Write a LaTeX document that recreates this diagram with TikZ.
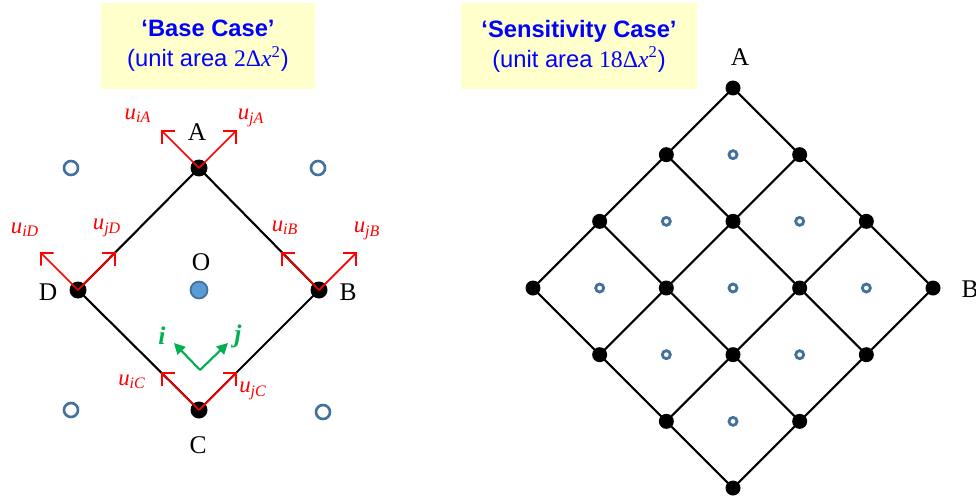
\documentclass[tikz,border=0pt]{standalone}
\usepackage{fontspec}
\setmainfont{Liberation Serif}
\newfontfamily\arialfont{Liberation Sans}
\usepackage{xcolor}
\usepackage{tikz}
\usetikzlibrary{arrows.meta,positioning,calc}

\definecolor{titleblue}{RGB}{0,0,255}
\definecolor{boxyellow}{RGB}{255,255,204}
\definecolor{ringblue}{RGB}{65,113,156}
\definecolor{fillblue}{RGB}{91,155,213}
\definecolor{vecgreen}{RGB}{0,176,80}

\tikzset{
	titlebox/.style={fill=boxyellow, align=center, text=titleblue, minimum height=1.72cm,
		font=\arialfont\fontsize{13.5}{17}\selectfont},
	bigdot/.style={circle, fill=black, inner sep=0pt, minimum size=0.34cm},
	smalldot/.style={circle, fill=black, inner sep=0pt, minimum size=0.3cm},
	ring/.style={circle, draw=ringblue, line width=1.5pt, inner sep=0pt, minimum size=0.28cm},
	cellring/.style={circle, draw=ringblue, line width=1.6pt, inner sep=0pt, minimum size=0.16cm},
	edge/.style={line width=1.2pt, black},
	uvec/.style={red, line width=1pt, -{Straight Barb[length=1.8mm,width=3.6mm]}},
	gvec/.style={vecgreen, line width=1.2pt, -{Triangle[length=2.2mm,width=2.2mm]}},
	ptlabel/.style={font=\fontsize{14.5}{17}\selectfont},
	ulabel/.style={text=red, font=\fontsize{13}{15}\selectfont\itshape, inner sep=0pt}
}

\begin{document}
\begin{tikzpicture}[x=0.02cm, y=-0.02cm]
		\useasboundingbox (0,0) rectangle (976,500);

		% title boxes
		\node[titlebox, minimum width=4.28cm] (basebox) at (208,46)
			{\textbf{‘Base Case’}\\(unit area {\rmfamily 2Δ\textit{x}\textsuperscript{2}})};
		\node[titlebox, minimum width=4.72cm] (sensbox) at (579,46)
			{\textbf{‘Sensitivity Case’}\\(unit area {\rmfamily 18Δ\textit{x}\textsuperscript{2}})};

		% base case cell
		\node[bigdot] (A) at (199,168) {};
		\node[bigdot] (B) at (319,290) {};
		\node[bigdot] (C) at (199,410) {};
		\node[bigdot] (D) at (78,290) {};
		\node[circle, fill=fillblue, draw=ringblue, line width=1pt, inner sep=0pt, minimum size=0.34cm] (O) at (199,290) {};

		\draw[edge] (A.center) -- (B.center) -- (C.center) -- (D.center) -- cycle;

		\node[ring] (nw) at (71,168) {};
		\node[ring] (ne) at (318,168) {};
		\node[ring] (sw) at (71,410) {};
		\node[ring] (se) at (323,412) {};

		\node[ptlabel] (lA) at (197,132) {A};
		\node[ptlabel] (lB) at (348,292) {B};
		\node[ptlabel] (lC) at (198,445) {C};
		\node[ptlabel] (lD) at (48,292) {D};
		\node[ptlabel] (lO) at (201,262) {O};

		% velocity components at the vertices
		\foreach \p in {A,B,C,D} {
			\coordinate (ti\p) at ($(\p)+(-38,-38)$);
			\coordinate (tj\p) at ($(\p)+(38,-38)$);
			\draw[uvec] (\p.center) -- (ti\p);
			\draw[uvec] (\p.center) -- (tj\p);
		}

		\node[ulabel] (uiA) at (138,116) {u\textsubscript{iA}};
		\node[ulabel] (ujA) at (251,118) {u\textsubscript{jA}};
		\node[ulabel] (uiD) at (25,230) {u\textsubscript{iD}};
		\node[ulabel] (ujD) at (107,228) {u\textsubscript{jD}};
		\node[ulabel] (uiB) at (285,228) {u\textsubscript{iB}};
		\node[ulabel] (ujB) at (367,231) {u\textsubscript{jB}};
		\node[ulabel] (uiC) at (132,382) {u\textsubscript{iC}};
		\node[ulabel] (ujC) at (253,391) {u\textsubscript{jC}};

		% local axes
		\coordinate (ax) at (200,370);
		\coordinate (axi) at (174,343);
		\coordinate (axj) at (228,343);
		\draw[gvec] (ax) -- (axi);
		\draw[gvec] (ax) -- (axj);
		\node[text=vecgreen, font=\fontsize{14.5}{17}\selectfont\bfseries\itshape] (li) at (162,336) {i};
		\node[text=vecgreen, font=\fontsize{14.5}{17}\selectfont\bfseries\itshape] (lj) at (238,336) {j};

		% sensitivity case grid
		\foreach \a in {0,...,3}
			\foreach \b in {0,...,3}
				\node[smalldot] (g\a\b) at ({733+66.67*(\b-\a)},{88+66.67*(\a+\b)}) {};

		\foreach \a in {0,...,3}
			\foreach \b/\c in {0/1,1/2,2/3} {
				\draw[edge] (g\a\b.center) -- (g\a\c.center);
				\draw[edge] (g\b\a.center) -- (g\c\a.center);
			}

		\foreach \a in {0,1,2}
			\foreach \b in {0,1,2}
				\node[cellring] (c\a\b) at ({733+66.67*(\b-\a)},{88+66.67*(\a+\b+1)}) {};

		\node[ptlabel] (gA) at (740,57) {A};
		\node[ptlabel] (gB) at (970,289) {B};
	\end{tikzpicture}
\end{document}
